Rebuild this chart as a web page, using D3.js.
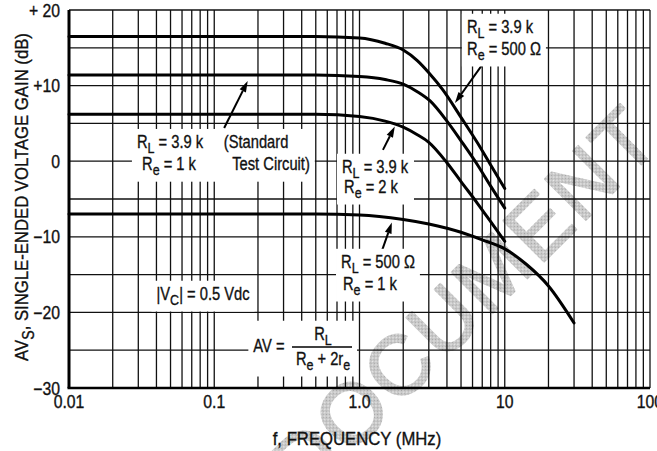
<!DOCTYPE html>
<html>
<head>
<meta charset="UTF-8">
<title>Single-ended voltage gain versus frequency</title>
<script src="https://cdn.jsdelivr.net/npm/d3@7"></script>
<style>
  body { margin: 0; background: #fff; }
  svg { display: block; }
  text { font-family: "Liberation Sans", Arial, sans-serif; fill: #111; white-space: pre; stroke: #111; stroke-width: 0.35; }
  .grid line { stroke: #111; stroke-width: 1.3; }
  .curve { fill: none; stroke: #000; stroke-width: 3; stroke-linecap: round; }
  .arrow { stroke: #000; stroke-width: 2; }
</style>
</head>
<body>
<div id="graphe"></div>
<script>
// courbes : frequence (MHz) / gain (dB)
var freqA = [0.01, 0.5, 1.0, 1.5, 2.0, 2.5, 3.0, 3.76, 5.0, 6.5, 8.0, 10];
var gainA = [16.5, 16.5, 16.3, 15.6, 14.7, 13.3, 11.7, 9.4, 5.8, 2.4, -0.5, -3.6];
var freqB = [0.01, 0.5, 1.0, 1.5, 2.0, 2.5, 3.05, 4.0, 5.0, 6.5, 8.0, 10];
var gainB = [11.4, 11.4, 11.2, 10.8, 10.2, 9.2, 8.0, 5.3, 2.7, -0.5, -3.3, -6.2];
var freqC = [0.01, 0.5, 1.0, 1.5, 2.0, 2.5, 3.0, 4.0, 5.0, 6.5, 8.0, 10];
var gainC = [6.2, 6.2, 5.9, 5.3, 4.5, 3.5, 2.5, -0.2, -2.7, -5.6, -8.0, -10.6];
var freqD = [0.01, 0.5, 1.0, 2.0, 3.0, 5.0, 7.0, 10, 14, 20, 30];
var gainD = [-7.0, -7.0, -7.1, -7.7, -8.3, -9.4, -10.4, -11.6, -13.6, -16.5, -21.4];

var xTickValues = [0.01, 0.1, 1, 10, 100];
var xTickLabels = ["0.01", "0.1", "1.0", "10", "100"];
var yTickValues = [20, 10, 0, -10, -20, -30];
var yTickLabels = ["+ 20", "+10", "0", "\u221210", "\u221220", "\u221230"];

// fleches : [f depart, dB depart, f pointe, dB pointe]
var arrows = [
  [0.117, 4.4, 0.17, 10.6],
  [6.97, 12.7, 4.54, 7.7],
  [1.45, 1.5, 1.75, 4.6],
  [1.43, -11.8, 1.67, -8.1]
];

// etiquettes : [groupe, texte, f centre, dB ligne de base]
var labels = [
  [1, "R_L = 3.9 k", 0.0496, 1.72],
  [1, "R_e = 1 k", 0.0488, -1.19],
  [1, "(Standard", 0.194, 1.72],
  [1, "Test Circuit)", 0.246, -1.19],
  [2, "R_L = 3.9 k", 9.27, 16.96],
  [2, "R_e = 500 \u03a9", 9.88, 14.05],
  [3, "R_L = 3.9 k", 1.28, -1.56],
  [3, "R_e = 2 k", 1.2, -4.21],
  [4, "R_L = 500 \u03a9", 1.34, -14.13],
  [4, "R_e = 1 k", 1.18, -17.04],
  [5, "|V_C| = 0.5 Vdc", 0.0837, -18.36],
  [6, "AV =", 0.238, -25.24],
  [6, "R_L", 0.561, -23.65],
  [6, "R_e + 2r_e", 0.561, -26.96]
];
var fractionBar = [0.343, 0.888, -24.58];

var width = 657, height = 451;
var svg = d3.select("#graphe").append("svg")
  .attr("width", width)
  .attr("height", height);

var x = d3.scaleLog().domain([0.01, 100]).range([69, 650]);
var y = d3.scaleLinear().domain([-30, 20]).range([388, 10]);

// filigrane
var defs = svg.append("defs");
var pat = defs.append("pattern").attr("id", "stipple")
  .attr("width", 2).attr("height", 2).attr("patternUnits", "userSpaceOnUse");
pat.append("rect").attr("width", 2).attr("height", 2).attr("fill", "#e8e8e8");
pat.append("rect").attr("width", 1).attr("height", 1).attr("fill", "#a2a2a2");
pat.append("rect").attr("x", 1).attr("y", 1).attr("width", 1).attr("height", 1).attr("fill", "#b2b2b2");

svg.append("text")
  .attr("transform", "translate(463,300) rotate(-45)")
  .attr("text-anchor", "middle")
  .attr("dy", "0.36em")
  .style("font-size", "84px")
  .style("letter-spacing", "3px")
  .style("fill", "url(#stipple)")
  .style("stroke", "url(#stipple)")
  .style("stroke-width", 2)
  .style("stroke-linejoin", "round")
  .text("DOCUMENT");

// grille
var grid = svg.append("g").attr("class", "grid");
grid.selectAll(".v").data(x.ticks()).enter().append("line")
  .attr("x1", function(d) { return x(d); })
  .attr("x2", function(d) { return x(d); })
  .attr("y1", y(20)).attr("y2", y(-30));
grid.selectAll(".h").data(d3.range(-30, 21, 5)).enter().append("line")
  .attr("x1", x(0.01)).attr("x2", x(100))
  .attr("y1", function(d) { return y(d); })
  .attr("y2", function(d) { return y(d); });

// cadre
svg.append("line").attr("x1", x(0.01)).attr("x2", x(0.01)).attr("y1", y(20)).attr("y2", y(-30))
  .attr("stroke", "#000").attr("stroke-width", 3);
svg.append("line").attr("x1", x(0.01) - 1.5).attr("x2", x(100)).attr("y1", y(-30)).attr("y2", y(-30))
  .attr("stroke", "#000").attr("stroke-width", 2.6);

// courbes
var line = d3.line()
  .x(function(d) { return x(d[0]); })
  .y(function(d) { return y(d[1]); })
  .curve(d3.curveMonotoneX);
[[freqA, gainA], [freqB, gainB], [freqC, gainC], [freqD, gainD]].forEach(function(s) {
  svg.append("path").attr("class", "curve").attr("d", line(d3.zip(s[0], s[1])));
});

// fleches
arrows.forEach(function(a) {
  var x0 = x(a[0]), y0 = y(a[1]), x1 = x(a[2]), y1 = y(a[3]);
  var ang = Math.atan2(y1 - y0, x1 - x0), L = 11, w = 3.5;
  var bx = x1 - L * Math.cos(ang), by = y1 - L * Math.sin(ang);
  svg.append("line").attr("class", "arrow")
    .attr("x1", x0).attr("y1", y0).attr("x2", bx).attr("y2", by);
  svg.append("path")
    .attr("d", "M" + x1 + "," + y1 +
      "L" + (bx - w * Math.sin(ang)) + "," + (by + w * Math.cos(ang)) +
      "L" + (bx + w * Math.sin(ang)) + "," + (by - w * Math.cos(ang)) + "Z")
    .attr("fill", "#000");
});

// texte avec indices : "R_L" -> R + L en indice
function richText(g, str, size) {
  var t = g.append("text").style("font-size", size + "px");
  var shift = 0;
  str.split(/(_[A-Za-z]+)/).forEach(function(p) {
    if (!p) return;
    var sub = p[0] === "_";
    var target = sub ? size * 0.3 : 0;
    t.append("tspan")
      .attr("dy", target - shift)
      .style("font-size", sub ? (size * 0.85) + "px" : null)
      .text(sub ? p.slice(1) : p);
    shift = target;
  });
  return t;
}

// texte etroit (police condensee simulee)
function narrow(parent, str, size, sx, px, py, anchor, rot) {
  var g = parent.append("g")
    .attr("transform", "translate(" + px + "," + py + ")" + (rot ? " rotate(" + rot + ")" : "") + " scale(" + sx + ",1)");
  return richText(g, str, size).attr("text-anchor", anchor);
}

// etiquettes avec fond blanc
var groups = d3.group(labels, function(d) { return d[0]; });
groups.forEach(function(items, key) {
  var g = svg.append("g");
  var box = g.append("rect").attr("fill", "#fff");
  items.forEach(function(d) {
    narrow(g, d[1], 17.5, 0.84, x(d[2]), y(d[3]), "middle");
  });
  if (key === 6) {
    g.append("line").attr("x1", x(fractionBar[0])).attr("x2", x(fractionBar[1]))
      .attr("y1", y(fractionBar[2])).attr("y2", y(fractionBar[2]))
      .attr("stroke", "#000").attr("stroke-width", 1.5);
  }
  var bb = g.node().getBBox(), pad = 5;
  box.attr("x", bb.x - pad).attr("y", bb.y - pad + 2)
    .attr("width", bb.width + 2 * pad).attr("height", bb.height + 2 * pad - 4);
});

// graduations
xTickValues.forEach(function(d, i) {
  narrow(svg, xTickLabels[i], 17.5, 0.9, x(d), 408, "middle");
});
yTickValues.forEach(function(d, i) {
  narrow(svg, yTickLabels[i], 17.5, 0.9, 60, y(d) + 6.5, "end");
});

// titres des axes
narrow(svg, "f, FREQUENCY (MHz)", 19, 0.88, 357, 445, "middle");
narrow(svg, "AV_S, SINGLE-ENDED VOLTAGE GAIN (dB)", 19, 0.88, 28, 197, "middle", -90);
</script>
</body>
</html>
